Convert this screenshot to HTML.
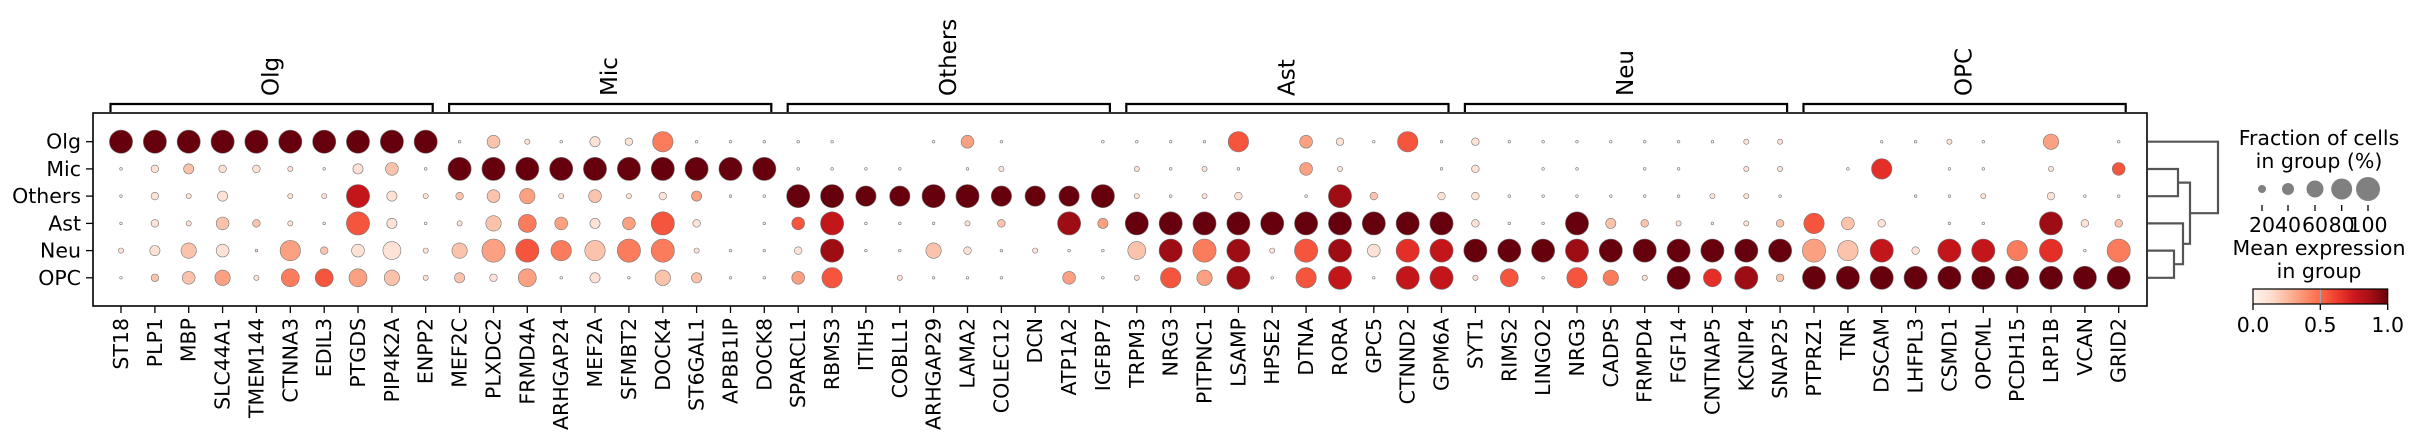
<!DOCTYPE html>
<html><head><meta charset="utf-8"><style>
html,body{margin:0;padding:0;background:#fff;}
svg{display:block;}
text{font-family:"DejaVu Sans","Liberation Sans",sans-serif;fill:#000;}
</style></head><body>
<svg id="s" width="2419" height="442" viewBox="0 0 2419 442" xmlns="http://www.w3.org/2000/svg">
<defs>
<linearGradient id="reds" x1="0" x2="1" y1="0" y2="0">
<stop offset="0" stop-color="#fff5f0"/><stop offset="0.125" stop-color="#fee0d2"/>
<stop offset="0.25" stop-color="#fcbba1"/><stop offset="0.375" stop-color="#fc9272"/>
<stop offset="0.5" stop-color="#fb6a4a"/><stop offset="0.625" stop-color="#ef3b2c"/>
<stop offset="0.75" stop-color="#cb181d"/><stop offset="0.875" stop-color="#a50f15"/>
<stop offset="1" stop-color="#67000d"/>
</linearGradient>
</defs>
<rect x="93" y="113" width="2054" height="193" fill="none" stroke="#000" stroke-width="1.6"/>
<g id="g"></g>
<g stroke="#555" stroke-width="2.2" fill="none">
<path d="M2148 169 H2178 V196.2 H2148"/>
<path d="M2148 250.6 H2174 V277.8 H2148"/>
<path d="M2148 223.4 H2183 V264.2 H2174"/>
<path d="M2178 182.6 H2190 V243.8 H2183"/>
<path d="M2148 141.7 H2218 V213.2 H2190"/>
</g>
<text x="2319" y="145" font-size="20.5" text-anchor="middle">Fraction of cells</text>
<text x="2319" y="168" font-size="20.5" text-anchor="middle">in group (%)</text>
<g fill="#808080">
<circle cx="2262" cy="189" r="4"/><circle cx="2288" cy="189" r="6"/>
<circle cx="2315" cy="189" r="8.5"/><circle cx="2341.7" cy="189" r="10.5"/>
<circle cx="2368" cy="189" r="12"/>
</g>
<g stroke="#000" stroke-width="1.3">
<line x1="2262" y1="205" x2="2262" y2="211"/><line x1="2288" y1="205" x2="2288" y2="211"/>
<line x1="2315" y1="205" x2="2315" y2="211"/><line x1="2341.7" y1="205" x2="2341.7" y2="211"/>
<line x1="2368" y1="205" x2="2368" y2="211"/>
</g>
<g font-size="20.5" text-anchor="middle">
<text x="2262" y="232">20</text><text x="2288" y="232">40</text><text x="2315" y="232">60</text>
<text x="2341.7" y="232">80</text><text x="2368" y="232">100</text>
</g>
<text x="2319" y="255" font-size="20.5" text-anchor="middle">Mean expression</text>
<text x="2319" y="278" font-size="20.5" text-anchor="middle">in group</text>
<rect x="2253" y="289" width="134.7" height="15" fill="url(#reds)" stroke="#000" stroke-width="1.2"/>
<line x1="2320.3" y1="289.5" x2="2320.3" y2="303.5" stroke="#9ab" stroke-width="1.2"/>
<g stroke="#000" stroke-width="1.3">
<line x1="2253" y1="304" x2="2253" y2="310"/><line x1="2320.3" y1="304" x2="2320.3" y2="310"/><line x1="2387.7" y1="304" x2="2387.7" y2="310"/>
</g>
<g font-size="20.5" text-anchor="middle">
<text x="2253" y="332">0.0</text><text x="2320.3" y="332">0.5</text><text x="2387.7" y="332">1.0</text>
</g>
</svg>
<script>
var genes=["ST18","PLP1","MBP","SLC44A1","TMEM144","CTNNA3","EDIL3","PTGDS","PIP4K2A","ENPP2",
"MEF2C","PLXDC2","FRMD4A","ARHGAP24","MEF2A","SFMBT2","DOCK4","ST6GAL1","APBB1IP","DOCK8",
"SPARCL1","RBMS3","ITIH5","COBLL1","ARHGAP29","LAMA2","COLEC12","DCN","ATP1A2","IGFBP7",
"TRPM3","NRG3","PITPNC1","LSAMP","HPSE2","DTNA","RORA","GPC5","CTNND2","GPM6A",
"SYT1","RIMS2","LINGO2","NRG3","CADPS","FRMPD4","FGF14","CNTNAP5","KCNIP4","SNAP25",
"PTPRZ1","TNR","DSCAM","LHFPL3","CSMD1","OPCML","PCDH15","LRP1B","VCAN","GRID2"];
var rows=["Olg","Mic","Others","Ast","Neu","OPC"];
var D=[
"99 10 10 10 21 10","99 31 31 31 41 32","99 42 21 21 62 52","99 31 41 52 51 63","99 31 00 32 11 21",
"99 21 21 21 83 74","99 10 21 10 32 75","99 41 97 95 51 73","99 52 41 41 71 62","99 10 21 10 21 21",
"10 99 32 21 62 42","52 99 52 62 93 31","21 99 63 74 95 73","10 99 21 53 84 10","41 99 52 41 82 41",
"31 99 21 53 94 10","84 99 31 95 94 62","10 99 43 31 21 42","10 99 10 00 10 10","10 99 10 10 10 10",
"10 10 99 55 31 53","10 10 99 97 98 85","00 10 89 10 10 00","00 10 89 10 10 21","10 00 99 10 62 10",
"53 10 99 21 31 10","10 21 89 32 10 10","00 00 89 00 21 00","00 00 89 98 10 53","10 00 99 43 10 10",
"10 21 21 99 72 21","10 10 10 99 98 85","10 21 21 99 94 63","85 10 31 99 98 98","00 00 00 99 21 10",
"53 53 10 99 95 85","31 21 98 99 98 97","10 00 32 99 51 10","85 00 00 99 96 97","10 10 31 99 97 97",
"31 31 31 31 99 21","10 00 10 10 99 75","10 10 10 10 99 10","10 10 10 99 98 85","10 00 10 42 99 64",
"10 10 10 32 99 21","10 10 10 21 99 99","10 00 21 10 99 76","21 21 21 21 99 98","21 21 10 32 99 32",
"00 00 00 85 93 99","00 10 00 52 82 99","10 86 00 31 97 99","10 00 10 00 31 99","21 10 10 10 97 99",
"10 10 21 10 97 99","00 00 00 00 84 99","63 21 31 98 96 99","00 00 10 31 10 99","10 55 10 32 94 99"];
var stops=[[255,245,240],[254,224,210],[252,187,161],[252,146,114],[251,106,74],[239,59,44],[203,24,29],[165,15,21],[103,0,13]];
function col(v){var t=v*8,i=Math.min(7,Math.floor(t)),f=t-i,a=stops[i],b=stops[i+1];
return "rgb("+[0,1,2].map(function(k){return Math.round(a[k]+(b[k]-a[k])*f)}).join(",")+")";}
var X=function(i){return 121+33.86*i}, Y=function(j){return 141.7+27.22*j};
var h="";
for(var i=0;i<60;i++){var p=D[i].split(" ");
 for(var j=0;j<6;j++){var d=+p[j][0],c=+p[j][1]; if(d===0)continue;
  var r=d===9?11.6:d*1.28;
  h+='<circle cx="'+X(i).toFixed(1)+'" cy="'+Y(j).toFixed(1)+'" r="'+r.toFixed(1)+'" fill="'+col(c/9)+'" stroke="#777" stroke-width="0.6"/>';}
 h+='<line x1="'+X(i).toFixed(1)+'" y1="306" x2="'+X(i).toFixed(1)+'" y2="313" stroke="#000" stroke-width="1.3"/>';
 h+='<text font-size="20.5" text-anchor="end" dominant-baseline="central" transform="translate('+X(i).toFixed(1)+',318) rotate(-90)">'+genes[i]+'</text>';
}
for(var j=0;j<6;j++){
 h+='<line x1="86" y1="'+Y(j).toFixed(1)+'" x2="93" y2="'+Y(j).toFixed(1)+'" stroke="#000" stroke-width="1.3"/>';
 h+='<text x="81" y="'+Y(j).toFixed(1)+'" font-size="20.5" text-anchor="end" dominant-baseline="central">'+rows[j]+'</text>';
}
for(var k=0;k<6;k++){
 var x0=X(k*10)-10.5,x1=X(k*10+9)+7,cx=(x0+x1)/2;
 h+='<path d="M'+x0.toFixed(1)+' 112 V104 H'+x1.toFixed(1)+' V112" fill="none" stroke="#000" stroke-width="2.2"/>';
 h+='<text font-size="23" text-anchor="start" dominant-baseline="central" transform="translate('+cx.toFixed(1)+',96) rotate(-90)">'+rows[k]+'</text>';
}
document.getElementById("g").innerHTML=h;
</script>
</body></html>
